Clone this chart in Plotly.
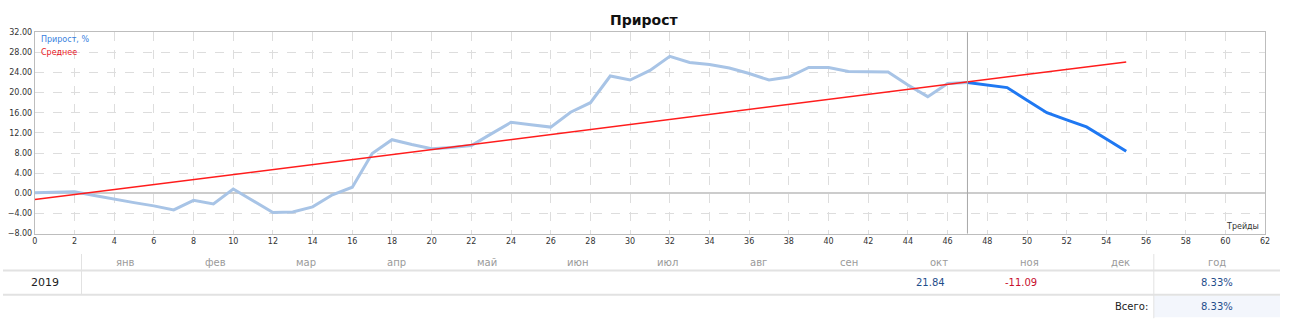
import plotly.graph_objects as go

W, H = 1290, 331

# ---- data ----
trades_hist = list(range(0, 48))
growth_hist = [0.1, 0.15, 0.3, -0.45, -1.2, -1.85, -2.5, -3.3, -1.4, -2.1,
               0.85, -1.5, -3.8, -3.7, -2.7, -0.3, 1.2, 7.9, 10.65, 9.7,
               8.85, 9.1, 9.5, 11.8, 14.1, 13.6, 13.15, 16.1, 18.0, 23.3,
               22.5, 24.4, 27.2, 26.0, 25.6, 24.9, 23.8, 22.5, 23.1, 25.0,
               25.0, 24.2, 24.15, 24.1, 21.5, 19.2, 21.8, 22.0]
trades_new = list(range(47, 56))
growth_new = [22.0, 21.55, 21.0, 18.5, 16.0, 14.6, 13.2, 10.8, 8.35]
avg_x = [0, 55]
avg_y = [-1.25, 26.1]

months = ["янв", "фев", "мар", "апр", "май", "июн", "июл", "авг", "сен", "окт", "ноя", "дек"]
month_values = {"окт": "21.84", "ноя": "-11.09"}
year_label = "2019"
year_total = "8.33%"
grand_total = "8.33%"

# ---- geometry helpers (pixel -> paper) ----
def px(x):
    return x / W

def py(y):
    return 1 - y / H

fig = go.Figure()
fig.add_trace(go.Scatter(x=trades_hist, y=growth_hist, mode="lines",
                         line=dict(color="#a8c4e6", width=3), hoverinfo="skip"))
fig.add_trace(go.Scatter(x=trades_new, y=growth_new, mode="lines",
                         line=dict(color="#1f78f2", width=3), hoverinfo="skip"))
fig.add_trace(go.Scatter(x=avg_x, y=avg_y, mode="lines",
                         line=dict(color="#ff1c1c", width=1.5), hoverinfo="skip"))

tick_font = dict(family="DejaVu Sans", size=8, color="#333333")
fig.update_layout(
    width=W, height=H, margin=dict(l=0, r=0, t=0, b=0),
    paper_bgcolor="white", plot_bgcolor="white", showlegend=False,
    xaxis=dict(domain=[px(32), px(1270)], range=[0, 62], dtick=2, tick0=0,
               showgrid=True, gridcolor="#dddddd", griddash="dash", gridwidth=1,
               showline=True, mirror=True, linecolor="#bdbdbd", linewidth=1,
               zeroline=False, ticks="", tickfont=tick_font, fixedrange=True),
    yaxis=dict(domain=[py(236), py(29)], range=[-8, 32], dtick=4, tick0=0,
               tickformat=".2f", showgrid=True, gridcolor="#dddddd", griddash="dash",
               showline=True, mirror=True, linecolor="#bdbdbd", linewidth=1,
               zeroline=True, zerolinecolor="#cccccc", zerolinewidth=1.5,
               ticks="", tickfont=tick_font, fixedrange=True),
)

shapes = []
# vertical separator at trade 47
shapes.append(dict(type="line", xref="x", yref="y domain", x0=47, x1=47, y0=0, y1=1,
                   line=dict(color="#a8a8a8", width=1)))
# table lines
for yy in (274, 299):
    shapes.append(dict(type="line", xref="paper", yref="paper", x0=px(0), x1=px(1285),
                       y0=py(yy), y1=py(yy), line=dict(color="#e2e2e2", width=2)))
shapes.append(dict(type="rect", xref="paper", yref="paper", x0=px(1158), x1=px(1285),
                   y0=py(322), y1=py(300), fillcolor="#f3f6fc", line=dict(width=0), layer="below"))
shapes.append(dict(type="line", xref="paper", yref="paper", x0=px(79), x1=px(79),
                   y0=py(257), y1=py(299), line=dict(color="#e2e2e2", width=1)))
shapes.append(dict(type="line", xref="paper", yref="paper", x0=px(1158), x1=px(1158),
                   y0=py(257), y1=py(323), line=dict(color="#e2e2e2", width=1)))
fig.update_layout(shapes=shapes)


def label(text, x, y, size, color, xanchor="center", family="DejaVu Sans"):
    return dict(text=text, xref="paper", yref="paper", x=px(x), y=py(y),
                xanchor=xanchor, yanchor="middle", showarrow=False,
                font=dict(family=family, size=size, color=color))


ann = []
ann.append(label("<b>Прирост</b>", 645, 16, 14, "#111111"))
ann.append(label("Прирост, %", 36, 37, 8, "#3a7fe0", xanchor="left"))
ann.append(label("Среднее", 36, 50, 8, "#e8151e", xanchor="left"))
ann.append(label("Трейды", 1266, 229, 8, "#333333", xanchor="right"))

month_x0, month_dx = 123, 91
for i, m in enumerate(months):
    cx = month_x0 + i * month_dx
    ann.append(label(m, cx, 266, 10, "#9a9a9a"))
    if m in month_values:
        val = month_values[m]
        col = "#c8102e" if val.startswith("-") else "#1f4e8c"
        ann.append(label(val, cx - 9, 286, 10, col))
ann.append(label("год", 1222, 266, 10, "#9a9a9a"))
ann.append(label(year_label, 42, 286, 11, "#222222"))
ann.append(label(year_total, 1222, 286, 10, "#1f4e8c"))
ann.append(label("Всего:", 1136, 311, 10, "#222222"))
ann.append(label(grand_total, 1222, 311, 10, "#1f4e8c"))
fig.update_layout(annotations=ann)

fig.write_html("out.html")
